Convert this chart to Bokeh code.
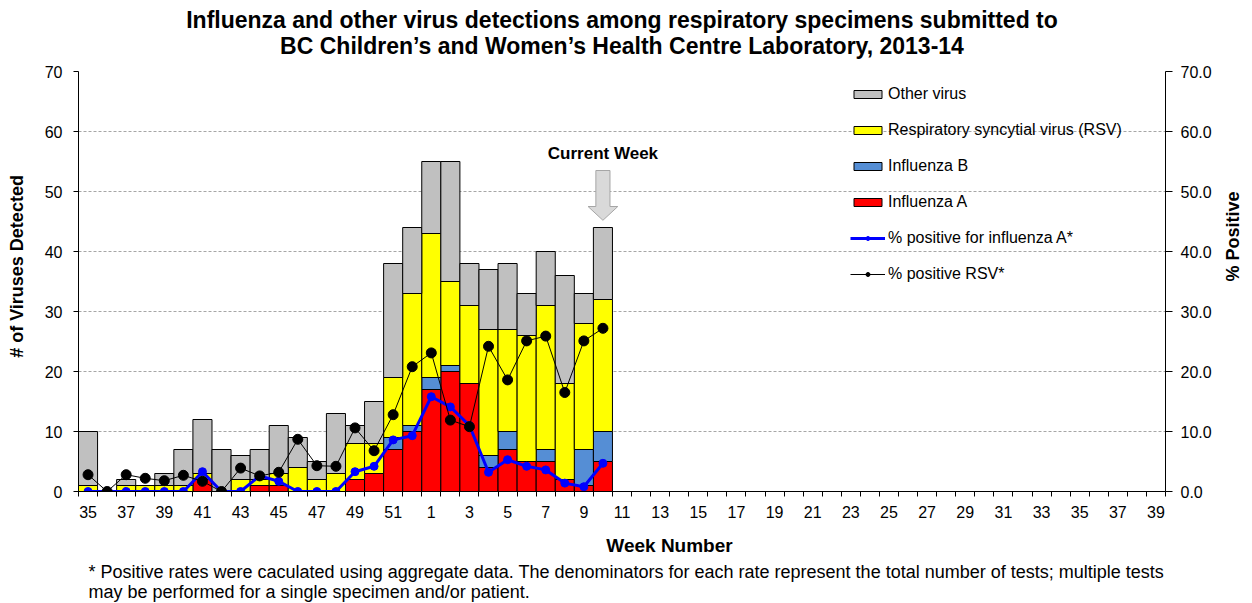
import math
from bokeh.plotting import figure
from bokeh.models import (Range1d, LinearAxis, FixedTicker, NumeralTickFormatter,
                          Legend, LegendItem, Label, ColumnDataSource, Title)
from bokeh.embed import file_html
from bokeh.resources import INLINE

# ---------------- data ----------------
weeks = ["35", "36", "37", "38", "39", "40", "41", "42", "43", "44", "45", "46", "47", "48",
         "49", "50", "51", "52", "1", "2", "3", "4", "5", "6", "7", "8", "9", "10", "11",
         "12", "13", "14", "15", "16", "17", "18", "19", "20", "21", "22", "23", "24", "25",
         "26", "27", "28", "29", "30", "31", "32", "33", "34", "35", "36", "37", "38", "39"]
reported_weeks = weeks[:28]
influenza_a = [0, 0, 0, 0, 0, 0, 2, 0, 0, 1, 1, 0, 0, 0, 2, 3, 7, 10, 17, 20, 18, 4, 7, 5, 5, 2, 1, 5]
influenza_b = [0, 0, 0, 0, 0, 0, 0, 0, 0, 0, 0, 0, 0, 0, 0, 0, 2, 1, 2, 1, 0, 2, 3, 0, 2, 0, 6, 5]
rsv = [1, 0, 1, 1, 1, 1, 1, 0, 2, 1, 2, 4, 2, 3, 6, 5, 10, 22, 24, 14, 13, 21, 17, 21, 24, 16, 21, 22]
other_virus = [9, 0, 1, 0, 2, 6, 9, 7, 4, 5, 8, 5, 3, 10, 3, 7, 19, 11, 12, 20, 7, 10, 11, 7, 9, 18, 5, 12]
pct_flu_a = [0, 0, 0, 0, 0, 0, 3.3, 0, 0, 2.6, 1.7, 0, 0, 0, 3.3, 4.2, 8.6, 9.3, 15.8, 14.1,
             11.0, 3.2, 5.3, 4.2, 3.6, 1.4, 0.8, 4.7]
pct_rsv = [2.8, 0, 2.8, 2.2, 1.8, 2.7, 1.7, 0, 3.9, 2.6, 3.2, 8.7, 4.3, 4.2, 10.6, 6.8, 12.8,
           20.8, 23.1, 11.9, 10.8, 24.2, 18.6, 25.1, 25.9, 16.5, 25.1, 27.2]
current_week = "10"
left_ticks = [0, 10, 20, 30, 40, 50, 60, 70]

FONT = "Liberation Sans"
NB = "\u00a0"

x = list(range(len(reported_weeks)))
src = ColumnDataSource(dict(x=x, a=influenza_a, b=influenza_b, rsv=rsv, other=other_virus,
                            pa=pct_flu_a, pr=pct_rsv))

p = figure(frame_width=1087, frame_height=420, min_border_left=78, min_border_right=86,
           min_border_top=71, min_border_bottom=110, output_backend="svg",
           toolbar_location=None, x_range=Range1d(-0.5, len(weeks) - 0.5),
           y_range=Range1d(0, 70), outline_line_color=None, title=None)
p.extra_y_ranges = {"pct": Range1d(0, 70)}

# title (two centred lines)
for txt, so in [("BC Children\u2019s and Women\u2019s Health Centre Laboratory, 2013-14", 25),
                ("Influenza and other virus detections among respiratory specimens submitted to", -29)]:
    p.add_layout(Title(text=txt, align="center", text_font=FONT, text_font_size="23px",
                       text_font_style="bold", text_color="black", standoff=so), "above")

# footnote
foot_kw = dict(text="* Positive rates were caculated using aggregate data. The denominators for each rate "
                    "represent the total number of tests; multiple tests\n"
                    "may be performed for a single specimen and/or patient.",
               align="left", offset=10, text_font=FONT, text_font_size="18px",
               text_font_style="normal", text_color="black", standoff=3)
try:
    foot = Title(text_line_height=1.0, **foot_kw)
except Exception:
    foot = Title(**foot_kw)
p.add_layout(foot, "below")

# axes
p.xaxis.ticker = FixedTicker(ticks=[i for i in range(0, len(weeks), 2)],
                             minor_ticks=[i - 0.5 for i in range(len(weeks) + 1)])
p.xaxis.major_label_overrides = {i: weeks[i] for i in range(len(weeks))}
p.xaxis.major_tick_out = 0
p.xaxis.major_tick_in = 0
p.xaxis.minor_tick_out = 5
p.xaxis.minor_tick_in = 0
p.xaxis.minor_tick_line_color = "black"
p.xaxis.major_label_standoff = 9
p.xaxis.axis_label = NB * 18 + "Week Number"
p.xaxis.axis_label_standoff = 14
p.xaxis.axis_label_text_font_size = "19px"

p.yaxis.ticker = FixedTicker(ticks=left_ticks, minor_ticks=[])
p.yaxis.major_tick_out = 5
p.yaxis.major_tick_in = 0
p.yaxis.major_label_standoff = 11
p.yaxis.axis_label = NB * 6 + "# of Viruses Detected"
p.yaxis.axis_label_standoff = 15
p.yaxis.axis_label_text_font_size = "18px"

right = LinearAxis(y_range_name="pct", ticker=FixedTicker(ticks=left_ticks, minor_ticks=[]),
                   formatter=NumeralTickFormatter(format="0.0"))
right.major_tick_out = 7
right.major_tick_in = 0
right.major_label_standoff = 8
right.axis_label = "% Positive"
right.axis_label_standoff = 18
right.axis_label_text_font_size = "18px"
try:
    right.axis_label_orientation = math.pi / 2
except Exception:
    pass
p.add_layout(right, "right")

for ax in [p.xaxis[0], p.yaxis[0], right]:
    ax.axis_line_color = "black"
    ax.axis_line_width = 1
    ax.major_tick_line_color = "black"
    ax.major_label_text_font = FONT
    ax.major_label_text_font_size = "16px"
    ax.major_label_text_color = "black"
    ax.axis_label_text_font = FONT
    ax.axis_label_text_font_style = "bold"
    ax.axis_label_text_color = "black"

p.xgrid.visible = False
p.ygrid.grid_line_color = "#a6a6a6"
p.ygrid.grid_line_dash = "3 2"
p.ygrid.ticker = FixedTicker(ticks=left_ticks)

# bars
bars = p.vbar_stack(["a", "b", "rsv", "other"], x="x", width=1.0, source=src,
                    fill_color=["#ff0000", "#558ed5", "#ffff00", "#c0c0c0"],
                    line_color="black", line_width=1)

# lines
la = p.line("x", "pa", source=src, y_range_name="pct", line_color="#0000ff", line_width=3)
sa = p.scatter("x", "pa", source=src, y_range_name="pct", size=8, fill_color="#0000ff",
               line_color="#0000ff")
lr = p.line("x", "pr", source=src, y_range_name="pct", line_color="black", line_width=1)
sr = p.scatter("x", "pr", source=src, y_range_name="pct", size=10, fill_color="black",
               line_color="black")

legend = Legend(items=[
    LegendItem(label="Other virus", renderers=[bars[3]]),
    LegendItem(label="Respiratory syncytial virus (RSV)", renderers=[bars[2]]),
    LegendItem(label="Influenza B", renderers=[bars[1]]),
    LegendItem(label="Influenza A", renderers=[bars[0]]),
    LegendItem(label="% positive for influenza A*", renderers=[la, sa]),
    LegendItem(label="% positive RSV*", renderers=[lr, sr]),
], location=(772, 207))
legend.padding = 0
legend.margin = 0
legend.spacing = 16
legend.glyph_height = 10
legend.glyph_width = 35
legend.label_height = 20
legend.label_standoff = 3
legend.label_text_font = FONT
legend.label_text_font_size = "16px"
legend.label_text_color = "black"
legend.border_line_color = None
legend.background_fill_alpha = 0
p.add_layout(legend)

# current-week annotation
ci = weeks.index(current_week)
top = influenza_a[ci] + influenza_b[ci] + rsv[ci] + other_virus[ci]
ax_ = [ci - 0.37, ci + 0.37, ci + 0.37, ci + 0.78, ci, ci - 0.78, ci - 0.37]
ay_ = [top + 9.5, top + 9.5, top + 3.5, top + 3.5, top + 1.2, top + 3.5, top + 3.5]
p.patch(ax_, ay_, fill_color="#d9d9d9", line_color="#a6a6a6", line_width=1)
p.add_layout(Label(x=ci, y=top + 12.3, text="Current Week", text_align="center",
                   text_baseline="middle", text_font=FONT, text_font_size="17px",
                   text_font_style="bold", text_color="black"))

open("out.html", "w").write(file_html(p, INLINE))
